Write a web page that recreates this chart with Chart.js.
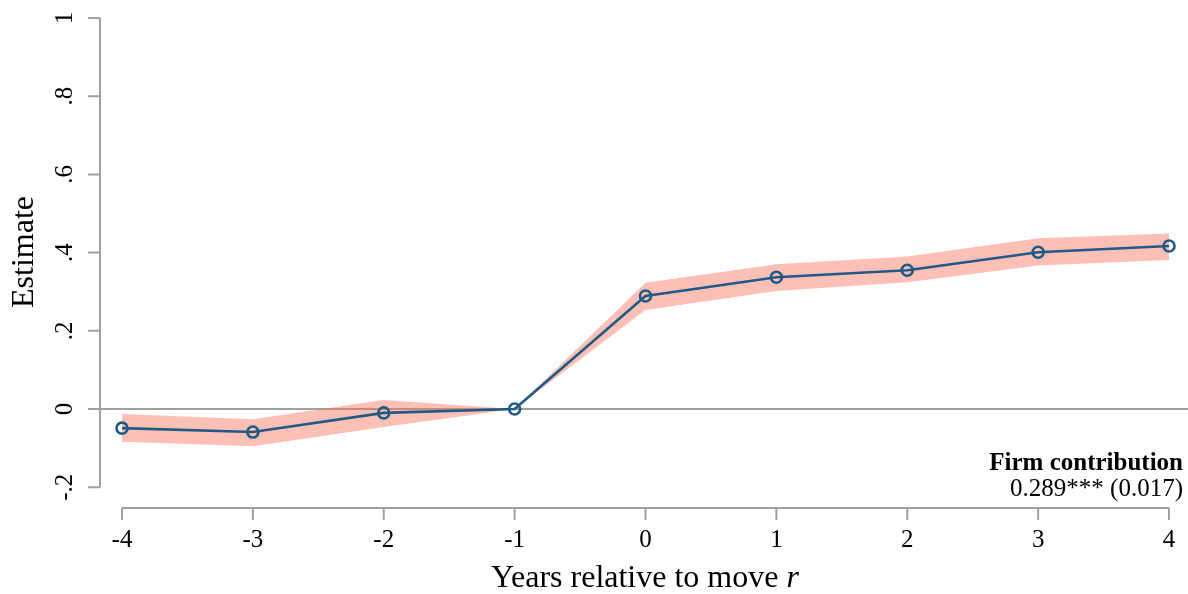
<!DOCTYPE html>
<html>
<head>
<meta charset="utf-8">
<script src="https://cdn.jsdelivr.net/npm/chart.js@4/dist/chart.umd.min.js"></script>
<style>
  html, body { margin: 0; padding: 0; background: #fff; overflow: hidden; }
  #wrap { width: 1188px; height: 594px; }
</style>
</head>
<body>
<div id="wrap"><canvas id="myChart"></canvas></div>
<script>
// data
const years = [-4, -3, -2, -1, 0, 1, 2, 3, 4];
const estimate = [-0.049, -0.059, -0.010, 0, 0.289, 0.337, 0.355, 0.401, 0.417];
const upper = [-0.013, -0.026, 0.023, 0, 0.323, 0.370, 0.390, 0.437, 0.449];
const lower = [-0.084, -0.095, -0.046, 0, 0.253, 0.302, 0.324, 0.367, 0.381];
const yTicks = [-0.2, 0, 0.2, 0.4, 0.6, 0.8, 1];
const yTickLabels = ['-.2', '0', '.2', '.4', '.6', '.8', '1'];
const xTicks = years;
const noteTitle = 'Firm contribution';
const noteValue = '0.289*** (0.017)';

const serif = '"Liberation Serif", "Times New Roman", serif';
const axisGray = '#a0a0a0';

const axesPlugin = {
    id: 'stataAxes',
    beforeDatasetsDraw(chart) {
        const ctx = chart.ctx, y = chart.scales.y;
        ctx.save();
        // zero line
        ctx.strokeStyle = axisGray;
        ctx.lineWidth = 2;
        ctx.beginPath();
        ctx.moveTo(chart.chartArea.left, y.getPixelForValue(0));
        ctx.lineTo(chart.width, y.getPixelForValue(0));
        ctx.stroke();
        ctx.restore();
    },
    afterDraw(chart) {
        const ctx = chart.ctx, x = chart.scales.x, y = chart.scales.y;
        const left = chart.chartArea.left;
        const axY = chart.chartArea.bottom;
        ctx.save();
        ctx.strokeStyle = axisGray;
        ctx.lineWidth = 2;
        // y axis
        ctx.beginPath();
        ctx.moveTo(left, y.getPixelForValue(1));
        ctx.lineTo(left, y.getPixelForValue(-0.2));
        yTicks.forEach(v => {
            const py = y.getPixelForValue(v);
            ctx.moveTo(left - 12, py);
            ctx.lineTo(left, py);
        });
        // x axis
        ctx.moveTo(x.getPixelForValue(-4), axY);
        ctx.lineTo(x.getPixelForValue(4), axY);
        xTicks.forEach(v => {
            const px = x.getPixelForValue(v);
            ctx.moveTo(px, axY);
            ctx.lineTo(px, axY + 12);
        });
        ctx.stroke();

        ctx.fillStyle = '#000';
        ctx.textBaseline = 'alphabetic';
        // x tick labels
        ctx.font = '25px ' + serif;
        ctx.textAlign = 'center';
        xTicks.forEach(v => ctx.fillText(String(v), x.getPixelForValue(v), 547));

        // y tick labels (rotated)
        yTicks.forEach((v, i) => {
            ctx.save();
            ctx.translate(72, y.getPixelForValue(v));
            ctx.rotate(-Math.PI / 2);
            ctx.fillText(yTickLabels[i], 0, 0);
            ctx.restore();
        });

        // y title
        ctx.font = '32px ' + serif;
        ctx.save();
        ctx.translate(33, 252);
        ctx.rotate(-Math.PI / 2);
        ctx.fillText('Estimate', 0, 0);
        ctx.restore();

        // x title with italic r
        const t1 = 'Years relative to move ';
        ctx.font = '32px ' + serif;
        const w1 = ctx.measureText(t1).width;
        ctx.font = 'italic 32px ' + serif;
        const w2 = ctx.measureText('r').width;
        const start = 645 - (w1 + w2) / 2;
        ctx.textAlign = 'left';
        ctx.font = '32px ' + serif;
        ctx.fillText(t1, start, 587);
        ctx.font = 'italic 32px ' + serif;
        ctx.fillText('r', start + w1, 587);

        // note
        ctx.textAlign = 'right';
        ctx.font = 'bold 25px ' + serif;
        ctx.fillText(noteTitle, 1183, 470);
        ctx.font = '25px ' + serif;
        ctx.fillText(noteValue, 1183, 496);
        ctx.restore();
    }
};

const ctx = document.getElementById('myChart').getContext('2d');
new Chart(ctx, {
    type: 'line',
    data: {
        labels: years,
        datasets: [{
            label: 'upper',
            data: years.map((v, i) => ({ x: v, y: upper[i] })),
            borderWidth: 0,
            pointRadius: 0,
            backgroundColor: 'rgba(250,112,92,0.44)',
            fill: '+1',
            tension: 0,
            order: 2
        }, {
            label: 'lower',
            data: years.map((v, i) => ({ x: v, y: lower[i] })),
            borderWidth: 0,
            pointRadius: 0,
            fill: false,
            tension: 0,
            order: 2
        }, {
            label: 'Estimate',
            data: years.map((v, i) => ({ x: v, y: estimate[i] })),
            borderColor: '#1f5a84',
            borderWidth: 2.6,
            pointRadius: 5.5,
            pointBorderWidth: 2.6,
            pointBorderColor: '#1f5a84',
            pointBackgroundColor: 'rgba(0,0,0,0)',
            fill: false,
            tension: 0,
            order: 0
        }]
    },
    options: {
        responsive: true,
        maintainAspectRatio: false,
        animation: false,
        layout: { autoPadding: false, padding: { left: 100, right: 0, top: 18, bottom: 86 } },
        plugins: { legend: { display: false }, tooltip: { enabled: false } },
        scales: {
            x: { type: 'linear', display: false, min: -4.168, max: 4.145 },
            y: { display: false, min: -0.2532, max: 1 }
        }
    },
    plugins: [axesPlugin]
});
</script>
</body>
</html>
